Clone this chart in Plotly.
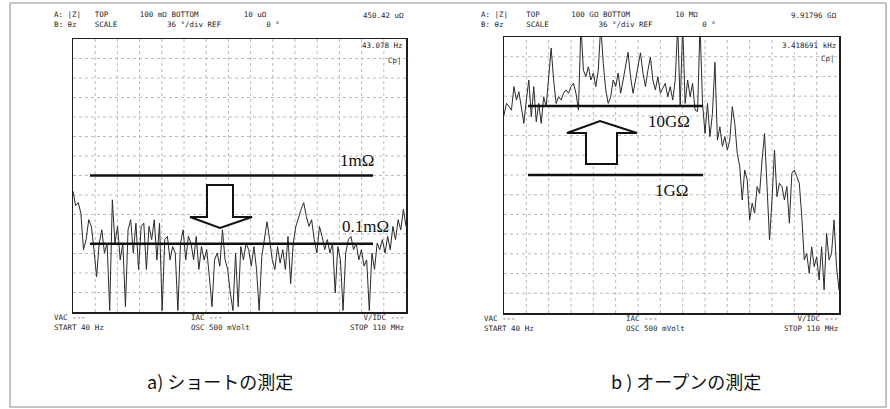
import numpy as np
import plotly.graph_objects as go

# ---------------- data ----------------
F_START_HZ = 40
F_STOP_HZ = 110e6

# a) short measurement, |Z| in milli-ohm
short_mohm = [
    0.59, 0.36, 0.40, 0.28, 0.082, 0.115, 0.225, 0.18, 0.082, 0.033,
    0.102, 0.16, 0.073, 0.102, 0.0105, 0.44, 0.102, 0.18, 0.058, 0.102,
    0.012, 0.16, 0.225, 0.073, 0.20, 0.042, 0.18, 0.20, 0.042, 0.18,
    0.115, 0.225, 0.058, 0.20, 0.0105, 0.115, 0.128, 0.058, 0.091, 0.073,
    0.0105, 0.102, 0.16, 0.058, 0.128, 0.102, 0.058, 0.128, 0.042, 0.091,
    0.058, 0.082, 0.033, 0.012, 0.058, 0.073, 0.047, 0.16, 0.058, 0.042,
    0.019, 0.0105, 0.073, 0.012, 0.091, 0.058, 0.102, 0.082, 0.047, 0.091,
    0.042, 0.0105, 0.065, 0.128, 0.21, 0.115, 0.058, 0.042, 0.091, 0.052,
    0.082, 0.042, 0.128, 0.026, 0.102, 0.18, 0.25, 0.32, 0.40, 0.25,
    0.18, 0.225, 0.115, 0.073, 0.18, 0.128, 0.082, 0.115, 0.073, 0.102,
    0.019, 0.091, 0.058, 0.0105, 0.073, 0.115, 0.128, 0.082, 0.102, 0.058,
    0.082, 0.047, 0.058, 0.0105, 0.073, 0.042, 0.102, 0.082, 0.115, 0.073,
    0.128, 0.082, 0.18, 0.115, 0.225, 0.16, 0.32, 0.18,
]

# b) open measurement, |Z| in giga-ohm
open_gohm = [
    7.4, 10.9, 9.8, 8.7, 19.1, 12.2, 16.1, 8.7, 5.6, 12.2,
    23.8, 7.0, 19.1, 5.9, 10.9, 5.6, 13.6, 9.8, 30, 69,
    23.8, 10.9, 13.6, 12.2, 15.3, 17.1, 15.3, 19.1, 21.3, 15.3,
    8.7, 150, 33, 26.6, 37, 23.8, 30, 19.1, 33, 150,
    41.5, 17.1, 10.9, 13.6, 23.8, 19.1, 30, 15.3, 23.8, 37,
    60, 26.6, 15.3, 23.8, 37, 59, 30, 19.1, 33, 51,
    23.8, 17.1, 26.6, 15.3, 18.1, 21.3, 13.6, 19.1, 12.2, 23.8,
    150, 9.8, 150, 10.9, 23.8, 13.6, 21.3, 8.7, 8.3, 150,
    10.9, 4.0, 10.9, 3.6, 7.8, 43, 3.2, 5.0, 2.6, 3.6,
    2.3, 3.2, 9.8, 5.6, 2.06, 1.32, 0.435, 1.18, 0.85, 0.223,
    0.39, 0.28, 0.68, 0.54, 1.65, 4.0, 0.68, 0.114, 0.435, 2.3,
    0.485, 0.76, 0.68, 0.435, 0.68, 0.20, 1.06, 1.18, 0.95, 0.76,
    0.25, 0.059, 0.073, 0.0376, 0.091, 0.047, 0.065, 0.030, 0.091, 0.0216,
    0.143, 0.059, 0.073, 0.223, 0.047, 0.0216,
]

short_ref_mohm = [1.0, 0.1]
short_ref_labels = ["1mΩ", "0.1mΩ"]
short_ref_span_hz = [85, 25.3e6]

open_ref_gohm = [10.0, 1.0]
open_ref_labels = ["10GΩ", "1GΩ"]
open_ref_span_hz = [116, 2.67e5]

captions = ["a) ショートの測定", "b ) オープンの測定"]

# instrument screen texts (text, column) per row
hdr_a_row1 = [("A: |Z|", 0), ("TOP", 9), ("100 mΩ BOTTOM", 19), ("10 uΩ", 42)]
hdr_a_row2 = [("B: θz", 0), ("SCALE", 9), ("36 °/div REF", 25), ("0 °", 47)]
hdr_b_row1 = [("A: |Z|", 0), ("TOP", 10), ("100 GΩ BOTTOM", 20), ("10 MΩ", 43)]
hdr_b_row2 = [("B: θz", 0), ("SCALE", 10), ("36 °/div REF", 26), ("0 °", 49)]
marker_a = ["450.42 uΩ", "43.078 Hz", "Cp|"]
marker_b = ["9.91796 GΩ", "3.418691 kHz", "Cp|"]
footer = [["VAC ---", "START 40 Hz"], ["IAC ---", "OSC 500 mVolt"],
          ["V/IDC ---", "STOP 110 MHz"]]

# ---------------- layout helpers ----------------
W, H = 890, 409


def px(x):
    return x / W


def py(y):
    return 1 - y / H


INK = "#1e1e1e"
MONO = "DejaVu Sans Mono"
MS = 7.5  # mono font size

fig = go.Figure()

freq_a = np.geomspace(F_START_HZ, F_STOP_HZ, len(short_mohm))
freq_b = np.geomspace(F_START_HZ, F_STOP_HZ, len(open_gohm))

fig.add_trace(go.Scatter(x=freq_a, y=short_mohm, mode="lines",
                         line=dict(color="#2a2a2a", width=1),
                         xaxis="x", yaxis="y", showlegend=False, hoverinfo="skip"))
for r in short_ref_mohm:
    fig.add_trace(go.Scatter(x=short_ref_span_hz, y=[r, r], mode="lines",
                             line=dict(color="#111", width=2.5),
                             xaxis="x", yaxis="y", showlegend=False, hoverinfo="skip"))

fig.add_trace(go.Scatter(x=freq_b, y=open_gohm, mode="lines",
                         line=dict(color="#2a2a2a", width=1),
                         xaxis="x2", yaxis="y2", showlegend=False, hoverinfo="skip"))
for r in open_ref_gohm:
    fig.add_trace(go.Scatter(x=open_ref_span_hz, y=[r, r], mode="lines",
                             line=dict(color="#111", width=2.5),
                             xaxis="x2", yaxis="y2", showlegend=False, hoverinfo="skip"))

axis_style = dict(type="log", showticklabels=False, ticks="", showgrid=False,
                  zeroline=False, showline=True, linecolor=INK, linewidth=1.5,
                  mirror=True, fixedrange=True)
xr = [np.log10(F_START_HZ), np.log10(F_STOP_HZ)]

fig.update_layout(
    width=W, height=H,
    margin=dict(l=0, r=0, t=0, b=0),
    paper_bgcolor="white", plot_bgcolor="white",
    xaxis=dict(domain=[px(73), px(406)], range=xr, anchor="y", **axis_style),
    yaxis=dict(domain=[py(312), py(39)], range=[-2, 2], anchor="x", **axis_style),
    xaxis2=dict(domain=[px(504), px(839)], range=xr, anchor="y2", **axis_style),
    yaxis2=dict(domain=[py(313), py(37)], range=[-2, 2], anchor="x2", **axis_style),
)

shapes = []
# outer frame
shapes.append(dict(type="rect", xref="paper", yref="paper",
                   x0=px(10), x1=px(886), y0=py(407), y1=py(3),
                   line=dict(color="#8a8a8a", width=1), fillcolor="rgba(0,0,0,0)"))
# dotted graticule
for xa, ya in (("x", "y"), ("x2", "y2")):
    for i in range(1, 15):
        shapes.append(dict(type="line", xref=f"{xa} domain", yref=f"{ya} domain",
                           x0=i / 15, x1=i / 15, y0=0, y1=1, layer="below",
                           line=dict(color="#bbbbbb", width=1, dash="dot")))
    for j in range(1, 14):
        shapes.append(dict(type="line", xref=f"{xa} domain", yref=f"{ya} domain",
                           x0=0, x1=1, y0=j / 14, y1=j / 14, layer="below",
                           line=dict(color="#bbbbbb", width=1, dash="dot")))


def poly(points):
    return "M " + " L ".join(f"{px(x):.5f},{py(y):.5f}" for x, y in points) + " Z"


# hollow block arrows
shapes.append(dict(type="path", xref="paper", yref="paper",
                   path=poly([(207, 185), (233, 185), (233, 217), (252, 217),
                              (220, 228), (190, 217), (207, 217)]),
                   fillcolor="white", line=dict(color="#111", width=2)))
shapes.append(dict(type="path", xref="paper", yref="paper",
                   path=poly([(586, 164), (617, 164), (617, 133), (637, 133),
                              (600, 121), (567, 133), (586, 133)]),
                   fillcolor="white", line=dict(color="#111", width=2)))
fig.update_layout(shapes=shapes)

ann = []


def txt(x, y, s, anchor="left", size=MS, family=MONO, color=INK, align=None):
    ann.append(dict(x=px(x), y=py(y), xref="paper", yref="paper", text=s,
                    showarrow=False, xanchor=anchor, yanchor="middle",
                    align=align or ("right" if anchor == "right" else "left"),
                    borderpad=0,
                    font=dict(family=family, size=size, color=color)))


def row(cols):
    out = ""
    for s, c in cols:
        n = len(out.replace("&nbsp;", " "))
        out += "&nbsp;" * max(0, c - n) + s
    return out


ROW_GAP = 1.3 * MS  # plotly line spacing
HDR_Y1 = 15

# panel a
txt(53, HDR_Y1 + ROW_GAP / 2, row(hdr_a_row1) + "<br>" + row(hdr_a_row2))
txt(405, HDR_Y1, marker_a[0], "right")
txt(404, 46, marker_a[1], "right")
txt(403, 60, marker_a[2], "right")
FOOT_Y1 = 318
txt(53, FOOT_Y1 + ROW_GAP / 2, "<br>".join(footer[0]))
txt(190, FOOT_Y1 + ROW_GAP / 2, "<br>".join(footer[1]))
txt(405, FOOT_Y1 + ROW_GAP / 2, "<br>".join(footer[2]), "right")

# panel b
txt(480, HDR_Y1 + ROW_GAP / 2, row(hdr_b_row1) + "<br>" + row(hdr_b_row2))
txt(838, HDR_Y1, marker_b[0], "right")
txt(837, 45, marker_b[1], "right")
txt(836, 59, marker_b[2], "right")
txt(483, FOOT_Y1 + 1 + ROW_GAP / 2, "<br>".join(footer[0]))
txt(625, FOOT_Y1 + 1 + ROW_GAP / 2, "<br>".join(footer[1]))
txt(839, FOOT_Y1 + 1 + ROW_GAP / 2, "<br>".join(footer[2]), "right")

# reference line labels
SERIF = "Liberation Serif"
txt(357, 160, short_ref_labels[0], "center", 17, SERIF, "#111")
txt(365, 227, short_ref_labels[1], "center", 17, SERIF, "#111")
txt(669, 122, open_ref_labels[0], "center", 17, SERIF, "#111")
txt(671, 190, open_ref_labels[1], "center", 17, SERIF, "#111")

# captions
txt(220, 381, captions[0], "center", 18, "Noto Sans CJK JP", "#111")
txt(686, 381, captions[1], "center", 18, "Noto Sans CJK JP", "#111")

fig.update_layout(annotations=ann)
fig.write_html("out.html",
               config={"displayModeBar": False, "staticPlot": True},
               post_script="document.body.style.margin='0';"
                           "document.body.style.overflow='hidden';")
